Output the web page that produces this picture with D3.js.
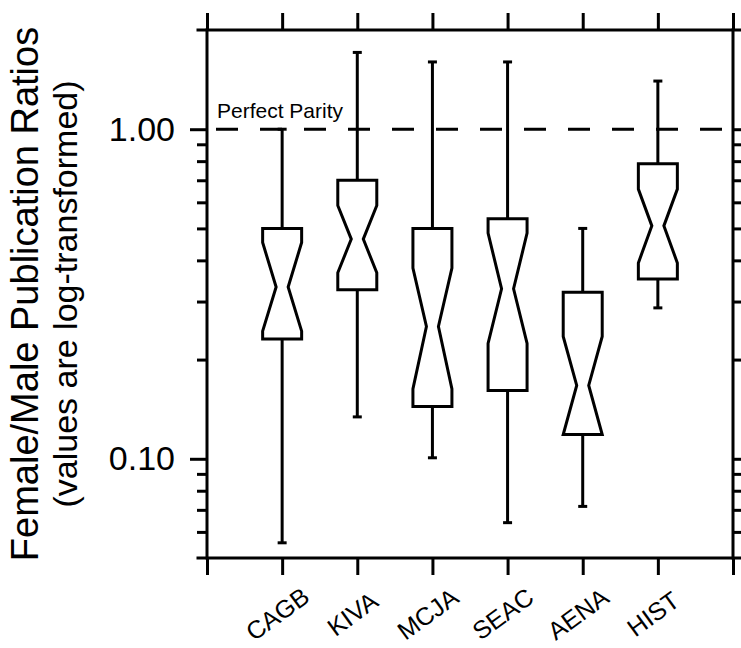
<!DOCTYPE html>
<html>
<head>
<meta charset="utf-8">
<script src="https://cdn.jsdelivr.net/npm/d3@7"></script>
<style>
  body { margin: 0; background: #fff; }
  svg { display: block; font-family: "Liberation Sans", Arial, sans-serif; }
</style>
</head>
<body>
<div id="chart"></div>
<script>
var width = 741, height = 648;

// values
var categories = ["CAGB", "KIVA", "MCJA", "SEAC", "AENA", "HIST"];
var whiskerHigh = [1.00, 1.71, 1.60, 1.60, 0.50, 1.40];
var q3 = [0.50, 0.70, 0.50, 0.535, 0.32, 0.785];
var notchHigh = [0.453, 0.587, 0.379, 0.484, 0.235, 0.658];
var medians = [0.332, 0.464, 0.252, 0.328, 0.167, 0.509];
var notchLow = [0.244, 0.367, 0.163, 0.224, 0.1185, 0.393];
var q1 = [0.231, 0.326, 0.144, 0.161, 0.1185, 0.351];
var whiskerLow = [0.0556, 0.134, 0.1007, 0.064, 0.0717, 0.287];

var majorTicks = [0.1, 1];
var minorTicks = [0.06, 0.07, 0.08, 0.09, 0.2, 0.3, 0.4, 0.5, 0.6, 0.7, 0.8, 0.9];
var parity = 1.0;

var x = d3.scaleLinear().domain([0, categories.length + 1]).range([207, 733]);
var y = d3.scaleLog().domain([0.05, 2]).range([558, 30]);

var svg = d3.select("#chart").append("svg")
    .attr("width", width)
    .attr("height", height);

var lw = 3;

// y axes, left and right
function yAxis(gen, xpos, values, size, labels) {
    var g = svg.append("g")
        .attr("transform", "translate(" + xpos + ",0)")
        .call(gen(y).tickValues(values).tickSize(size).tickSizeOuter(0)
            .tickPadding(15)
            .tickFormat(labels ? d3.format(".2f") : ""));
    g.select(".domain").remove();
    g.selectAll(".tick line").attr("stroke", "#000").attr("stroke-width", lw);
    g.selectAll(".tick text").attr("font-size", 34).attr("fill", "#000")
        .attr("font-family", "Liberation Sans, Arial, sans-serif");
    return g;
}
yAxis(d3.axisLeft, x(0), majorTicks, 17, true);
yAxis(d3.axisLeft, x(0), minorTicks, 10, false);
yAxis(d3.axisRight, x(7), majorTicks, 17, false);
yAxis(d3.axisRight, x(7), minorTicks, 10, false);

// x axes, top and bottom
var idx = d3.range(0, categories.length + 2);
function xAxis(gen, ypos, labels) {
    var g = svg.append("g")
        .attr("transform", "translate(0," + ypos + ")")
        .call(gen(x).tickValues(idx).tickSize(17).tickSizeOuter(0)
            .tickFormat(function (i) { return labels ? (categories[i - 1] || "") : ""; }));
    g.select(".domain").remove();
    g.selectAll(".tick line").attr("stroke", "#000").attr("stroke-width", lw);
    return g;
}
xAxis(d3.axisTop, y.range()[1], false);
var bottom = xAxis(d3.axisBottom, y.range()[0], true);
bottom.selectAll(".tick text")
    .attr("font-size", 25)
    .attr("fill", "#000")
    .attr("font-family", "Liberation Sans, Arial, sans-serif")
    .attr("text-anchor", "middle")
    .attr("x", 0).attr("y", 0).attr("dy", null)
    .attr("transform", "translate(0,63) rotate(-36)");

// frame
svg.append("g").selectAll("line")
    .data([
        [198, y.range()[1], 741, y.range()[1]],
        [198, y.range()[0], 741, y.range()[0]],
        [x(0), y.range()[1], x(0), y.range()[0]],
        [x(7), y.range()[1], x(7), y.range()[0]]
    ])
    .enter().append("line")
    .attr("x1", function (d) { return d[0]; })
    .attr("y1", function (d) { return d[1]; })
    .attr("x2", function (d) { return d[2]; })
    .attr("y2", function (d) { return d[3]; })
    .attr("stroke", "#000")
    .attr("stroke-width", lw)
    .attr("stroke-linecap", "square");

// perfect parity line
svg.append("line")
    .attr("x1", 216).attr("x2", x(7))
    .attr("y1", y(parity)).attr("y2", y(parity))
    .attr("stroke", "#000")
    .attr("stroke-width", lw)
    .attr("stroke-dasharray", "22,22");

svg.append("text")
    .attr("x", 217)
    .attr("y", y(parity) - 11)
    .attr("font-size", 21)
    .attr("fill", "#000")
    .text("Perfect Parity");

// boxes
var boxHalf = 19.5, waist = 6, cap = 4.5;
var boxes = svg.append("g").selectAll("g")
    .data(categories)
    .enter().append("g");

boxes.append("path")
    .attr("d", function (d, i) {
        var cx = x(i + 1);
        var pts = [
            [cx - boxHalf, y(q3[i])],
            [cx - boxHalf, y(notchHigh[i])],
            [cx - waist, y(medians[i])],
            [cx - boxHalf, y(notchLow[i])],
            [cx - boxHalf, y(q1[i])],
            [cx + boxHalf, y(q1[i])],
            [cx + boxHalf, y(notchLow[i])],
            [cx + waist, y(medians[i])],
            [cx + boxHalf, y(notchHigh[i])],
            [cx + boxHalf, y(q3[i])]
        ];
        return d3.line()(pts) + "Z";
    })
    .attr("fill", "none")
    .attr("stroke", "#000")
    .attr("stroke-width", lw)
    .attr("stroke-linejoin", "miter");

// whiskers
boxes.append("line")
    .attr("x1", function (d, i) { return x(i + 1); })
    .attr("x2", function (d, i) { return x(i + 1); })
    .attr("y1", function (d, i) { return y(q3[i]); })
    .attr("y2", function (d, i) { return y(whiskerHigh[i]); })
    .attr("stroke", "#000").attr("stroke-width", lw);
boxes.append("line")
    .attr("x1", function (d, i) { return x(i + 1); })
    .attr("x2", function (d, i) { return x(i + 1); })
    .attr("y1", function (d, i) { return y(q1[i]); })
    .attr("y2", function (d, i) { return y(whiskerLow[i]); })
    .attr("stroke", "#000").attr("stroke-width", lw);
boxes.append("line")
    .attr("x1", function (d, i) { return x(i + 1) - cap; })
    .attr("x2", function (d, i) { return x(i + 1) + cap; })
    .attr("y1", function (d, i) { return y(whiskerHigh[i]); })
    .attr("y2", function (d, i) { return y(whiskerHigh[i]); })
    .attr("stroke", "#000").attr("stroke-width", lw);
boxes.append("line")
    .attr("x1", function (d, i) { return x(i + 1) - cap; })
    .attr("x2", function (d, i) { return x(i + 1) + cap; })
    .attr("y1", function (d, i) { return y(whiskerLow[i]); })
    .attr("y2", function (d, i) { return y(whiskerLow[i]); })
    .attr("stroke", "#000").attr("stroke-width", lw);

// y title, two lines
var midY = (y.range()[0] + y.range()[1]) / 2;
svg.append("text")
    .attr("transform", "translate(38," + midY + ") rotate(-90)")
    .attr("text-anchor", "middle")
    .attr("font-size", 38)
    .attr("fill", "#000")
    .text("Female/Male Publication Ratios");
svg.append("text")
    .attr("transform", "translate(77," + midY + ") rotate(-90)")
    .attr("text-anchor", "middle")
    .attr("font-size", 34)
    .attr("fill", "#000")
    .text("(values are log-transformed)");
</script>
</body>
</html>
